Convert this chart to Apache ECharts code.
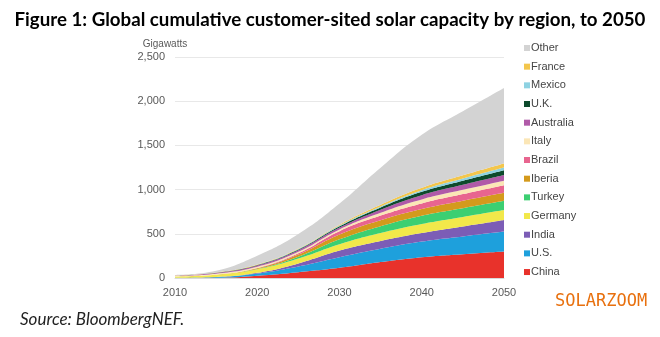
<!DOCTYPE html>
<html>
<head>
<meta charset="utf-8">
<script src="https://cdn.jsdelivr.net/npm/echarts@6/dist/echarts.min.js"></script>
<style>
html,body{margin:0;padding:0;background:#fff;}
#c{width:660px;height:337px;}
</style>
</head>
<body>
<div id="c"></div>
<script>
const years = ['2010', '2015', '2020', '2025', '2030', '2035', '2040', '2045', '2050'];
const seriesNames = ['China','U.S.','India','Germany','Turkey','Iberia','Brazil','Italy','Australia','U.K.','Mexico','France','Other'];
const china     = [0, 2, 25, 65, 115, 180, 235, 270, 300];
const us        = [2, 8, 25, 65, 120, 150, 177, 200, 225];
const india     = [0, 1, 8, 35, 75, 88, 96, 112, 130];
const germany   = [15, 25, 40, 55, 72, 90, 102, 108, 113];
const turkey    = [0, 0, 3, 20, 55, 78, 95, 100, 105];
const iberia    = [0, 1, 8, 25, 55, 68, 75, 83, 90];
const brazil    = [0, 0, 3, 15, 38, 52, 64, 76, 87];
const italy     = [8, 12, 15, 17, 20, 32, 45, 48, 50];
const australia = [3, 8, 15, 18, 20, 35, 48, 57, 65];
const uk        = [1, 3, 5, 8, 15, 25, 38, 47, 55];
const mexico    = [0, 0, 1, 4, 8, 12, 19, 25, 30];
const france    = [1, 2, 4, 6, 10, 18, 26, 36, 45];
const other     = [5, 20, 100, 165, 240, 420, 600, 725, 855];
const yTicks = [0, 500, 1000, 1500, 2000, 2500];

const values = [china, us, india, germany, turkey, iberia, brazil, italy, australia, uk, mexico, france, other];
const colors = ['#e8322b','#1ea0dc','#7c5db6','#f2e84a','#3ccf72','#d49a1c','#e8658f','#fbe6b6','#b05aa8','#0d4a2c','#8ed2e2','#f3c64c','#d3d3d3'];

const chart = echarts.init(document.getElementById('c'));
const series = seriesNames.map((n, i) => ({
  name: n,
  type: 'line',
  stack: 'total',
  smooth: 0.45,
  showSymbol: false,
  symbol: 'none',
  lineStyle: { width: 0 },
  itemStyle: { color: colors[i] },
  areaStyle: { color: colors[i], opacity: 1 },
  data: values[i]
}));

chart.setOption({
  animation: false,
  title: {
    text: 'Figure 1: Global cumulative customer-sited solar capacity by region, to 2050',
    left: 'center', top: 5,
    textStyle: { fontFamily: 'Lato', fontWeight: 'bold', fontSize: 18.7, color: '#000' }
  },
  graphic: [
    { type: 'text', left: 20, top: 311, style: { text: 'Source: BloombergNEF.', font: 'italic 17px Lato', fill: '#222' } },
    { type: 'text', left: 555, top: 293, style: { text: 'SOLARZOOM', font: '17px "DejaVu Sans Mono"', fill: '#e8700e' } }
  ],
  legend: {
    orient: 'vertical',
    left: 519, top: 37,
    itemWidth: 6, itemHeight: 6,
    itemGap: 6.67,
    icon: 'rect',
    data: seriesNames.slice().reverse(),
    textStyle: { fontFamily: 'Liberation Sans', fontSize: 11, color: '#454545', lineHeight: 12, padding: [0,0,0,-4] }
  },
  grid: { left: 175, right: 156, top: 57, bottom: 59 },
  xAxis: {
    type: 'category', data: years, boundaryGap: false,
    axisLine: { lineStyle: { color: '#d9d9d9' } },
    axisTick: { show: false },
    splitLine: { show: false },
    axisLabel: { interval: 1, color: '#595959', fontFamily: 'Liberation Sans', fontSize: 11, margin: 9 }
  },
  yAxis: {
    type: 'value', min: yTicks[0], max: yTicks[yTicks.length-1], interval: 500,
    name: 'Gigawatts',
    nameLocation: 'end',
    nameGap: 8,
    nameTextStyle: { color: '#595959', fontFamily: 'Liberation Sans', fontSize: 10, align: 'center', padding: [0, 20, 0, 0] },
    axisLine: { show: false },
    axisTick: { show: false },
    splitLine: { lineStyle: { color: '#e8e8e8' } },
    axisLabel: { color: '#595959', fontFamily: 'Liberation Sans', fontSize: 11, margin: 10 }
  },
  series: series
});
</script>
</body>
</html>
